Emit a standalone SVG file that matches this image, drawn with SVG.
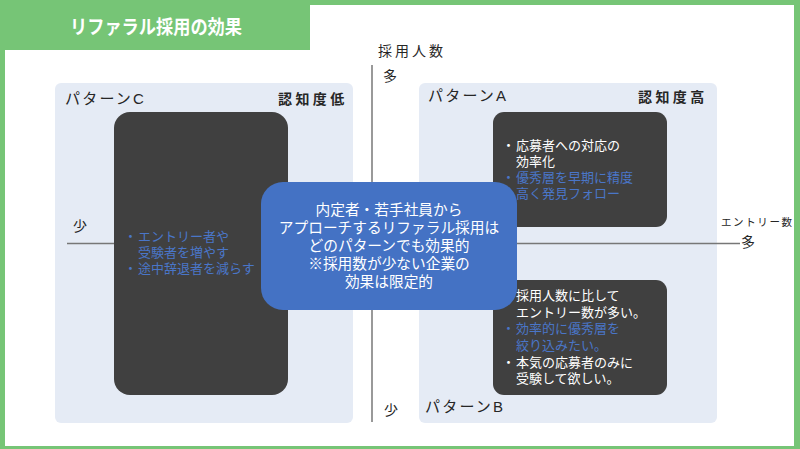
<svg xmlns="http://www.w3.org/2000/svg" width="800" height="449" viewBox="0 0 800 449">
<style>
text{font-family:"Liberation Sans","Noto Sans CJK JP",sans-serif;}
.panel{fill:#E5EBF5;}
.dark{fill:#404040;}
.axis{stroke:#777777;stroke-width:1.5;fill:none;}
.lbl{font-size:15px;fill:#262626;letter-spacing:2.2px;}
.bold{font-size:14px;font-weight:bold;fill:#262626;letter-spacing:3.4px;}
.ax{font-size:14px;fill:#262626;}
.w{font-size:13px;fill:#FFFFFF;}
.b{font-size:13px;fill:#4A76C8;}
.c{font-size:14.7px;fill:#FFFFFF;text-anchor:middle;}
</style>
<rect x="0" y="0" width="800" height="449" fill="#76C576"/>
<rect x="5" y="5" width="789" height="441" fill="#FFFFFF"/>
<rect x="0" y="0" width="310" height="50" fill="#76C576"/>
<text x="70" y="34" font-size="19.5" font-weight="bold" fill="#FFFFFF" textLength="172" lengthAdjust="spacingAndGlyphs">リファラル採用の効果</text>

<g id="panel-c"><rect class="panel" x="55" y="83" width="298" height="340" rx="6"/></g>
<g id="panel-ab"><rect class="panel" x="419" y="83" width="298" height="340" rx="6"/></g>

<g id="connectors">
<line class="axis" x1="372" y1="65" x2="372" y2="422"/>
<line class="axis" x1="67" y1="243.5" x2="740" y2="243.5"/>
</g>

<g id="box-c">
<rect class="dark" x="114" y="112" width="174" height="283" rx="16"/>
<text class="b"><tspan x="124" y="241">・</tspan><tspan x="138" y="241">エントリー者や</tspan><tspan x="138" y="257">受験者を増やす</tspan><tspan x="124" y="273">・</tspan><tspan x="138" y="273">途中辞退者を減らす</tspan></text>
</g>

<g id="box-a">
<rect class="dark" x="493" y="112" width="174" height="115" rx="11"/>
<text class="w"><tspan x="502" y="149.5">・</tspan><tspan x="516" y="149.5">応募者への対応の</tspan><tspan x="516" y="165.5">効率化</tspan></text>
<text class="b"><tspan x="502" y="181.5">・</tspan><tspan x="516" y="181.5">優秀層を早期に精度</tspan><tspan x="516" y="197.5">高く発見フォロー</tspan></text>
</g>

<g id="box-b">
<rect class="dark" x="493" y="280" width="174" height="115" rx="11"/>
<text class="w"><tspan x="502" y="300">・</tspan><tspan x="516" y="300">採用人数に比して</tspan><tspan x="516" y="316.7">エントリー数が多い。</tspan></text>
<text class="b"><tspan x="502" y="333.3">・</tspan><tspan x="516" y="333.3">効率的に優秀層を</tspan><tspan x="516" y="350">絞り込みたい。</tspan></text>
<text class="w"><tspan x="502" y="366.7">・</tspan><tspan x="516" y="366.7">本気の応募者のみに</tspan><tspan x="516" y="383.3">受験して欲しい。</tspan></text>
</g>

<g id="center-note">
<rect x="261" y="182" width="256" height="128" rx="22" fill="#4472C4"/>
<text class="c"><tspan x="389" y="214.8">内定者・若手社員から</tspan><tspan x="389" y="232.8">アプローチするリファラル採用は</tspan><tspan x="389" y="250.8">どのパターンでも効果的</tspan><tspan x="389" y="268.8">※採用数が少ない企業の</tspan><tspan x="389" y="286.8">効果は限定的</tspan></text>
</g>

<g id="labels">
<text class="lbl" x="65" y="104">パターンC</text>
<text class="bold" x="278" y="103.5">認知度低</text>
<text class="lbl" x="428" y="100.7">パターンA</text>
<text class="bold" x="638" y="101.5">認知度高</text>
<text class="lbl" x="425" y="412.4">パターンB</text>
<text class="ax" x="378" y="56" letter-spacing="3">採用人数</text>
<text class="ax" x="383" y="80.5">多</text>
<text class="ax" x="384" y="414.8">少</text>
<text class="ax" x="73" y="230.5">少</text>
<text class="ax" x="741" y="247">多</text>
<text x="721" y="225.7" font-size="10.5" fill="#262626" letter-spacing="1.6">エントリー数</text>
</g>
</svg>
